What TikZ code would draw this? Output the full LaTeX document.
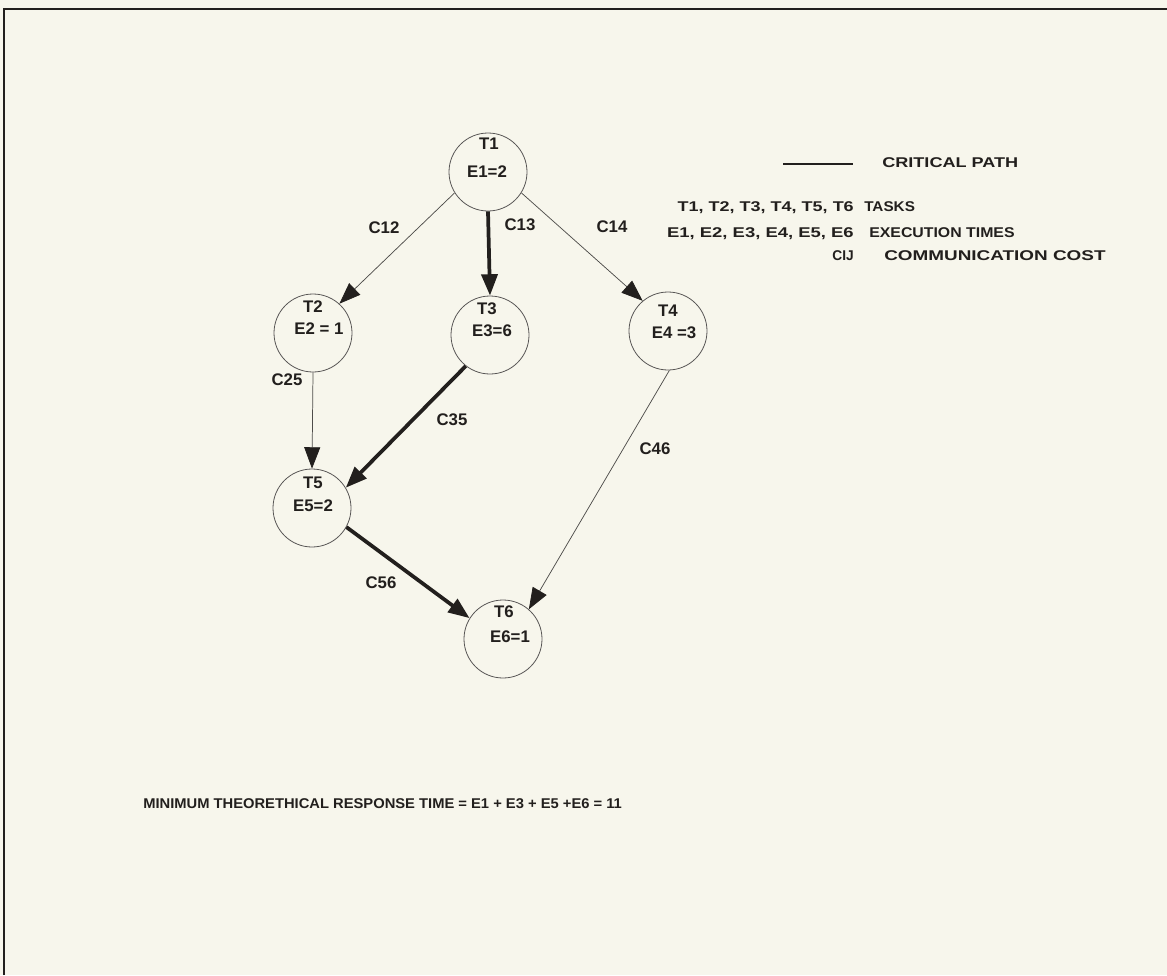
\documentclass[tikz,border=0pt]{standalone}
\usepackage{fontspec}
\setmainfont{Liberation Sans}
\usetikzlibrary{arrows.meta}
\definecolor{paper}{RGB}{247,246,236}
\definecolor{ink}{RGB}{34,31,29}
\newcommand{\fitbox}[2]{\resizebox{#1}{7.4pt}{\bfseries #2}}
\begin{document}
\begin{tikzpicture}[x=0.75pt,y=-0.75pt,
  task/.style={circle, draw=ink!75, line width=0.6pt, minimum size=58.5pt, inner sep=0pt},
  ntext/.style={font=\bfseries\fontsize{12.6}{14}\selectfont, text=ink, inner sep=0pt},
  thinedge/.style={draw=ink!80, line width=0.55pt, -{Triangle[length=16pt,width=12pt,color=ink]}},
  thickedge/.style={draw=ink, line width=2.8pt, -{Triangle[length=16pt,width=12pt,color=ink]}},
  legend/.style={text=ink, inner sep=0pt}
]
\useasboundingbox (0,0) rectangle (1167,975);
\fill[paper] (0,0) rectangle (1167,975);
\draw[ink, line width=2pt] (4,975) -- (4,9) -- (1167,9);

% tasks
\node[task] (T1) at (488,172) {};
\node[task] (T2) at (313,333) {};
\node[task] (T3) at (490,335) {};
\node[task] (T4) at (668,331) {};
\node[task] (T5) at (312,508) {};
\node[task] (T6) at (503,639) {};

\node[ntext] (t1a) at (489,144) {T1};
\node[ntext] (t1b) at (487,172) {E1=2};
\node[ntext] (t2a) at (313,307) {T2};
\node[ntext] (t2b) at (319,329) {E2 = 1};
\node[ntext] (t3a) at (487,309) {T3};
\node[ntext] (t3b) at (492,331) {E3=6};
\node[ntext] (t4a) at (668,311) {T4};
\node[ntext] (t4b) at (674,333) {E4 =3};
\node[ntext] (t5a) at (313,483) {T5};
\node[ntext] (t5b) at (313,506) {E5=2};
\node[ntext] (t6a) at (504,612) {T6};
\node[ntext] (t6b) at (510,637) {E6=1};

% edges
\draw[thinedge] (T1.212) -- (T2.48);
\draw[thickedge] (T1.270) -- (T3.90);
\draw[thinedge] (T1.328) -- (T4.130);
\draw[thinedge] (T2.270) -- (T5.90);
\draw[thickedge] (T3.232) -- (T5.31);
\draw[thinedge] (T4.272) -- (T6.49);
\draw[thickedge] (T5.331) -- (T6.148);

% edge labels
\node[ntext] (c12) at (384,228) {C12};
\node[ntext] (c13) at (520,225) {C13};
\node[ntext] (c14) at (612,227) {C14};
\node[ntext] (c25) at (287,380) {C25};
\node[ntext] (c35) at (452,420) {C35};
\node[ntext] (c46) at (655,449) {C46};
\node[ntext] (c56) at (381,583) {C56};

% legend
\coordinate (lg1) at (783,164);
\coordinate (lg2) at (853,164);
\draw[ink, line width=1.5pt] (lg1) -- (lg2);
\node[legend, anchor=base west] (lcp) at (882,167) {\fitbox{102pt}{CRITICAL PATH}};
\node[legend, anchor=base east] (ltl) at (854,211) {\fitbox{132pt}{T1, T2, T3, T4, T5, T6}};
\node[legend, anchor=base west] (ltt) at (864,211) {\fitbox{38pt}{TASKS}};
\node[legend, anchor=base east] (lel) at (854,237) {\fitbox{140pt}{E1, E2, E3, E4, E5, E6}};
\node[legend, anchor=base west] (let) at (869,237) {\fitbox{109pt}{EXECUTION TIMES}};
\node[legend, anchor=base east] (lcl) at (854,260) {\fitbox{16pt}{CIJ}};
\node[legend, anchor=base west] (lct) at (884,260) {\fitbox{166pt}{COMMUNICATION COST}};

% bottom line
\node[legend, anchor=base west] (mtr) at (143,808) {\fitbox{359pt}{MINIMUM THEORETHICAL RESPONSE TIME = E1 + E3 + E5 +E6 = 11}};
\end{tikzpicture}
\end{document}
